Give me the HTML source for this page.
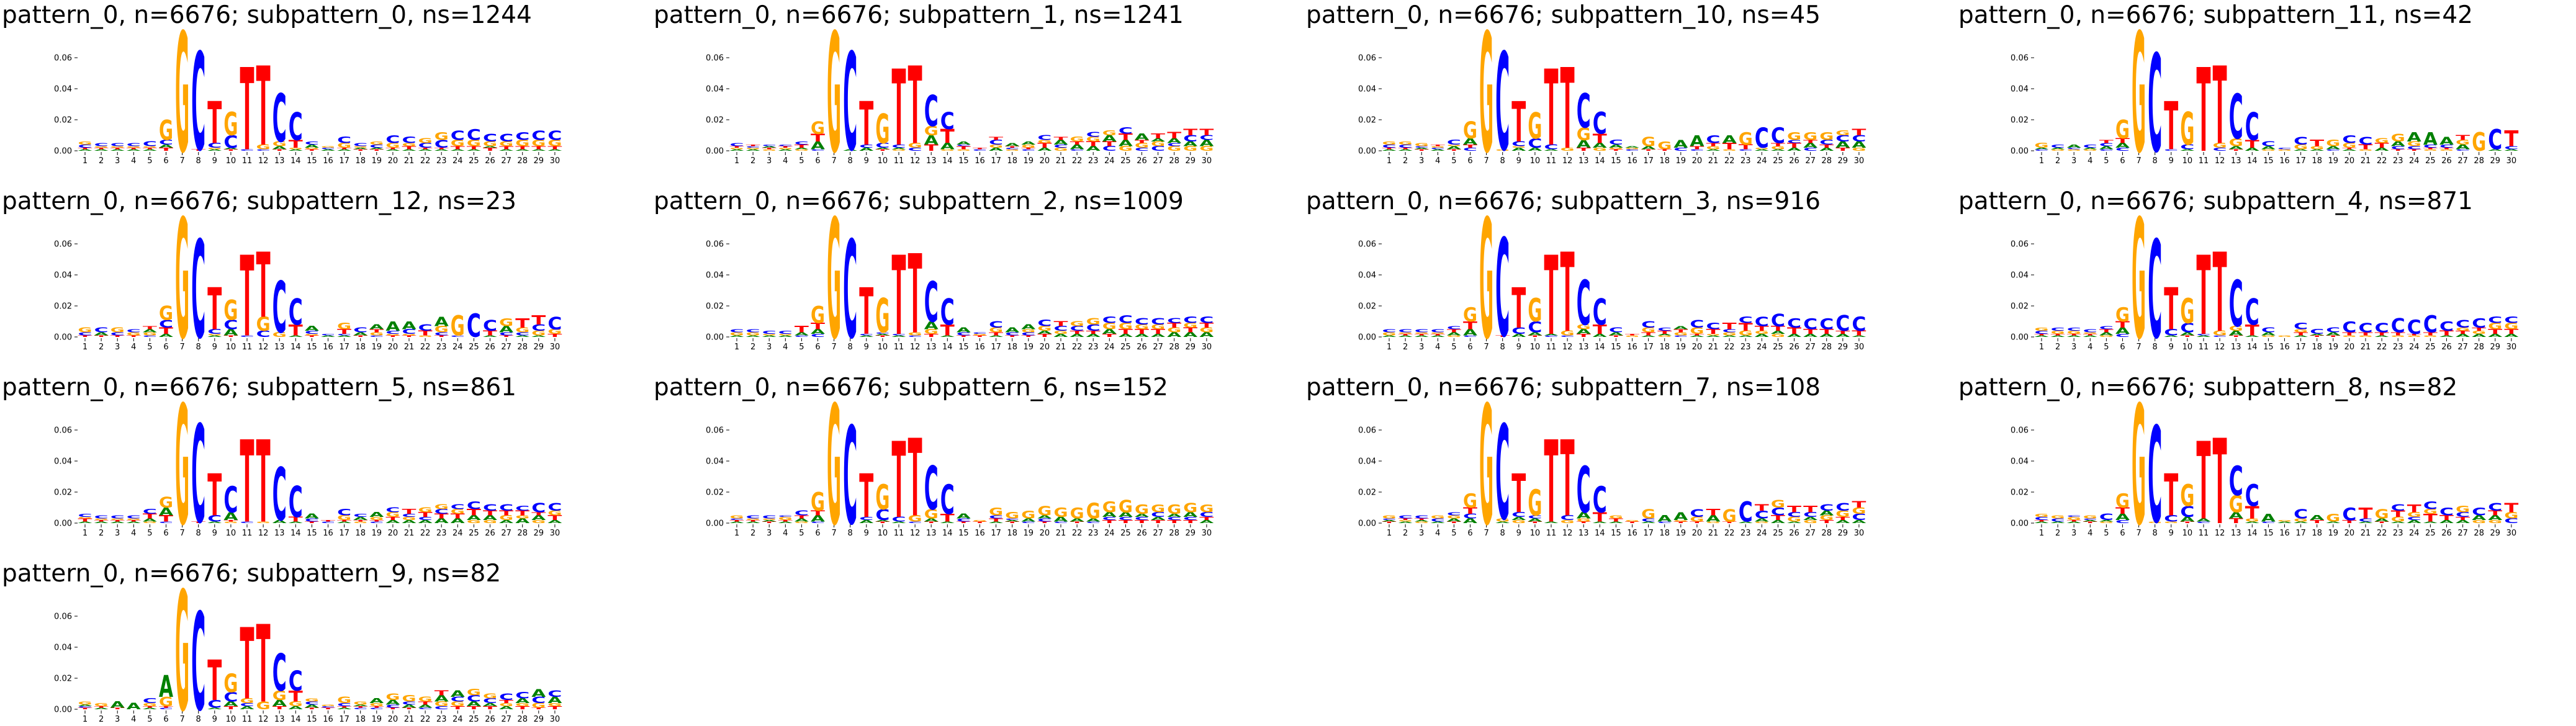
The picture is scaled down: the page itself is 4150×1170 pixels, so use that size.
<!DOCTYPE html>
<html><head><meta charset="utf-8">
<style>
html,body{margin:0;padding:0;background:#fff;}
svg{display:block;}
</style></head>
<body>
<svg id="fig" xmlns="http://www.w3.org/2000/svg" width="4150" height="1170" viewBox="0 0 4150 1170"></svg>
<script>
// ---- data (heights in units of 0.001, stacks bottom -> top) ----
const subpatternIds = ["0","1","10","11","12","2","3","4","5","6","7","8","9"];
const subpatternNs = [1244,1241,45,42,23,1009,916,871,861,152,108,82,82];
const positions = [1,2,3,4,5,6,7,8,9,10,11,12,13,14,15,16,17,18,19,20,21,22,23,24,25,26,27,28,29,30];
const yTickValues = [0,0.02,0.04,0.06];
const yTickLabels = ["0.00","0.02","0.04","0.06"];
const stacks0 = ["A1 T1 C2 G2","A1 T1 G1 C2","A1 T1 G1 C2","A1 T1 G1 C2","A1 T1 G1 C3","T2 A2 C3 G13","G77","T1 C63","A1 G1 C3 T27","T1 A1 C8 G15","C1 T53","C1 G3 T51","T1 A2 G3 C31","A1 G1 T5 C18","T1 G1 A2 C2","A1 C1 G1","A1 T1 G3 C4","T1 A1 G1 C2","T1 A1 C2 G2","A1 T1 G3 C5","A1 T2 G2 C4","A1 T1 C3 G3","A1 T1 C5 G5","A1 T2 G4 C6","A1 T2 G4 C7","T2 A1 G3 C5","A1 T2 G3 C5","A1 T2 G4 C5","A1 T2 G4 C6","A1 T2 G4 C6"];
const stacks1 = ["A1 G1 T1 C2","A1 G1 C1 T1","G1 T1 A1 C1","A1 G1 T1 C1","G1 A1 T2 C2","C1 A5 T5 G8","G77","A1 C63","A2 C2 T28","T1 A1 C3 G19","G1 A1 C2 T49","C2 G3 T50","T4 A6 G6 C20","G1 A4 T9 C11","G1 T2 C1 A2","C1 T1","A2 G2 C3 T2","G1 C1 T1 A2","C1 T1 G2 A2","A2 T3 G2 C3","G2 C2 A3 T2","C1 A3 T2 G3","A3 T3 G3 C3","C3 T3 A4 G3","G3 A4 T4 C4","C2 G3 T2 A4","C3 G3 A2 T3","G3 C2 A3 T4","G3 A3 C4 T4","G3 A4 C3 T4"];
const stacks10 = ["A1 T1 C2 G2","A1 T1 C2 G2","T1 A1 C1 G2","A1 C1 G1 T1","T1 A2 G1 C3","C2 T2 A4 G11","G77","G1 C63","A2 G1 C3 T26","A2 C6 G17","A1 C3 T49","G2 T52","T2 A5 G8 C22","G2 A3 T6 C14","T1 G1 A2 C3","C1 G1 A1","T1 A2 G6","T1 G5","C2 A5","C1 T2 A7","A1 G2 T2 C5","G1 T4 A5","C1 T3 G8","A1 G1 C13","A1 G2 T2 C10","A2 T3 C2 G5","C2 A3 T2 G5","A2 T2 C3 G5","T2 A4 C4 G3","G2 A4 C4 T4"];
const stacks11 = ["C1 A1 G3","G1 A1 C2","G1 C1 A2","G1 A1 C2","C1 A2 C2 T2","C2 A3 T3 G12","G77","C63","C1 T31","A1 C3 G21","T54","C2 G3 T50","T1 A2 G5 C29","A2 T5 C18","G1 A2 C3","G1 C1","A1 G3 C5","A1 G2 T4","C1 A2 G4","A1 T1 G3 C5","G1 T3 C5","A2 T3 G3","T1 C2 A3 G5","T1 C2 G3 A6","G1 T1 C2 A8","G1 T1 C2 A5","C1 A3 G3 T3","G12","A1 C13","A1 C2 T10"];
const stacks12 = ["T1 C2 G3","T1 A2 C3","T1 C2 G3","T1 G2 C2","C1 G2 A2 T2","A2 T4 C5 G9","G77","C63","A1 G1 C3 T27","T1 A4 C6 G13","C1 T52","C4 G9 T42","G3 C33","A1 T7 C17","T1 G1 C2 A3","A1 C1","A1 C1 T3 G4","T1 A2 C3","C1 G2 T2 A3","T1 G1 C2 A6","T1 G1 C3 A5","G1 T3 C4","T1 C2 G4 A6","C1 G13","C15","A1 T3 C7","T1 C2 A4 G5","A1 C2 G3 T6","A1 G3 C4 T6","T2 G3 C8"];
const stacks2 = ["A1 G2 C2","A1 G2 C2","A1 G1 C2","A1 G1 C2","C1 A2 T4","C2 A3 T4 G11","G77","C63","A1 C1 T30","T1 A1 C1 G22","A1 C1 T51","C1 G2 T51","T2 G3 A5 C26","A1 T7 C17","T1 C2 A3","T1 G1 C1","A1 T2 G3 C4","T1 C2 A3","T1 C2 G2 A3","T2 A2 G3 C4","A2 G2 C3 T3","A2 T2 C3 G3","A2 T2 C4 G4","T2 A3 G4 C4","A2 T3 G4 C5","A2 T3 G3 C4","A2 T3 G3 C4","A3 G3 T3 C3","A3 T3 G3 C4","A3 G3 T3 C4"];
const stacks3 = ["A1 G2 C2","A1 T1 G1 C2","A1 T1 G1 C2","A1 T1 G1 C2","G1 A2 T2 C2","C1 A4 T5 G9","G77","T1 C63","A2 C4 T26","T1 A2 C7 G15","C1 A1 T51","C1 G3 T51","T2 A3 G3 C29","A2 T6 C17","T1 A2 C3","G1 T1","A1 T2 G3 C4","G1 A1 T2 C2","C1 G2 T2 A2","A1 T1 G4 C5","A1 G1 T3 C4","A1 G2 C2 T4","A1 G3 T5 C4","A2 G2 T3 C6","G2 A2 T3 C8","A2 T4 C6","A2 T3 C7","A2 T3 C7","A2 T2 C10","A1 T3 C9"];
const stacks4 = ["A1 T1 C2 G2","A1 T1 G2 C2","A1 T1 G2 C2","A1 T1 G1 C2","G1 A2 T2 C2","C2 A4 T4 G9","G77","C63","A1 C4 T27","T1 A2 C6 G16","A1 C1 T51","C1 G3 T51","T1 A3 G3 C30","A1 T7 C17","G1 A2 C3","G1","A1 T2 G2 C4","T1 A1 C3","T1 A2 C3","G1 T2 C7","G1 T2 C6","A1 T2 C6","G1 T2 C9","G1 T1 C9","G1 T2 C11","A1 T3 C6","A2 T2 G2 C5","A2 G2 T2 C6","A2 T3 G4 C4","A2 T3 G4 C4"];
const stacks5 = ["A1 T2 G1 C2","A1 T1 G1 C2","A1 T1 G1 C2","A1 T1 G1 C2","G1 A2 T3 C3","C1 T4 A5 G7","G77","T1 C63","A1 C4 T27","G1 T1 A5 C17","C1 T53","G1 T53","A2 C34","A1 T3 C20","T1 C2 A3","C1 T1","A1 T1 G3 C4","G1 T1 A2 C2","C1 T1 G2 A3","A2 T2 G3 C3","A2 G2 C2 T3","A2 C2 T3 G3","A3 T3 C3 G3","A3 T3 G3 C3","G2 A3 T4 C5","G2 A3 T3 C4","A2 G3 T3 C4","A3 G2 T3 C3","G2 A3 T2 C6","A2 T3 G3 C5"];
const stacks6 = ["A1 T1 C1 G2","A1 T1 G1 C2","T1 A1 G1 C2","A1 T1 G2 C1","G1 A2 T2 C3","C1 A4 T3 G12","G77","C63","A2 C2 T28","T1 A1 C7 G16","A1 C3 T49","C1 G4 T50","T1 A2 G6 C28","A1 T5 C19","T1 C2 A3","T1 G1","A1 T2 C2 G5","T1 A1 C1 G4","C1 A2 G5","T1 C2 A2 G6","C1 A3 G6","T1 A2 G7","C1 A2 G10","T2 C2 A3 G7","T2 C2 A3 G8","T2 C2 A2 G6","T2 A2 C3 G5","T2 C2 A2 G6","T2 C2 A3 G6","A2 T2 C3 G5"];
const stacks7 = ["T1 A1 C1 G2","A1 G1 T1 C2","G1 A1 T1 C2","A1 C2 G2","T1 A2 G2 C2","A3 C3 T4 G9","G77","A1 G2 C61","G2 A2 C3 T25","T1 A2 C2 G17","A1 T53","G2 C3 T49","T1 G2 A4 C30","A1 T6 C17","A1 T2 G2","T1 G1","A1 C2 G6","C1 A4","T1 G1 A5","T1 G3 C5","G1 A4 T4","T1 G8","A1 C13","G1 A2 C5 T4","A2 T3 C5 G5","A1 G3 C3 T4","G2 A2 C3 T4","T2 G3 A3 C4","A2 T2 G4 C5","A2 C4 G4 T4"];
const stacks8 = ["A1 T1 C2 G2","A1 C2 G2","A1 T1 G2 C1","T1 A1 C1 G2","G1 A1 C4","C2 A4 T4 G9","G77","G1 C62","G1 C4 T27","T1 A3 C7 G14","C1 A2 T50","T55","T3 A4 G11 C19","A1 G2 T8 C14","C1 A5","A1 G1","A1 G2 C6","T2 A3","A1 G5","T2 C8","A1 C2 T7","T1 A2 G6","A1 G3 T4 C4","A2 C2 G3 T5","A1 T5 G3 C5","A2 T3 C5","A2 T2 C3 G4","G2 A3 C5","G2 A3 T3 C5","C3 G4 T6"];
const stacks9 = ["T1 C1 A1 G2","A1 T1 G2","T1 A4","A4","A1 T1 G2 C3","C1 T1 G6 A14","G77","C63","A1 C5 T26","T2 A3 C6 G12","A2 C2 G3 T46","G5 T50","T2 A4 G6 C24","A2 G3 T7 C13","T1 A2 C2 G2","T1 C1 G1","A1 T1 C2 G4","C1 T1 A1 G2","C1 T1 G2 A3","T1 C2 A3 G4","T1 A2 C2 G4","C1 A2 T2 G3","C2 G3 A4 T3","T2 G3 C3 A4","T2 A3 C4 G4","T2 A2 C3 G3","A2 G2 T2 C4","T2 G2 A3 C4","T1 G3 C4 A5","T2 G2 A4 C4"];
const panelStacks = [stacks0,stacks1,stacks10,stacks11,stacks12,stacks2,stacks3,stacks4,stacks5,stacks6,stacks7,stacks8,stacks9];

// ---- layout ----
const NS = "http://www.w3.org/2000/svg";
const svg = document.getElementById('fig');
const colX = [0,1050,2101,3152];
const rowY = [0,300,600,900];
const zeroY = 243, pxPerUnit = 2500; // 0.02 -> 50px
const x1 = 137, dx = 26.1, letterW = 23;
const colors = {A:"#008000",C:"#0000ff",G:"#ffa500",T:"#ff0000"};
function xScale(p){ return x1 + (p-1)*dx; }
function yScale(v){ return zeroY - v*pxPerUnit; }
function mk(tag, attrs, parent){
  const e = document.createElementNS(NS, tag);
  for (const k in attrs) e.setAttribute(k, attrs[k]);
  parent.appendChild(e); return e;
}

subpatternIds.forEach((sid, i) => {
  const g = mk('g', {transform:`translate(${colX[i%4]},${rowY[Math.floor(i/4)]})`}, svg);
  
  
  const t = mk('text', {x:3, y:37, 'font-family':'"DejaVu Sans", "Liberation Sans", sans-serif', 'font-size':39, fill:'#000'}, g);
  t.textContent = `pattern_0, n=6676; subpattern_${sid}, ns=${subpatternNs[i]}`;
  
  
  // y ticks
  yTickValues.forEach((v, k) => {
    const y = yScale(v);
    const tl = mk('line', {x1:120, x2:125, y1:y, y2:y, stroke:'#000', 'stroke-width':1}, g);
    
    
    const lb = mk('text', {x:116, y:y+4.7, 'text-anchor':'end', 'font-family':'"DejaVu Sans", sans-serif', 'font-size':13, fill:'#000'}, g);
    lb.textContent = yTickLabels[k];
    
    
  });
  // x ticks
  positions.forEach(p => {
    const x = xScale(p);
    const tl = mk('line', {x1:x, x2:x, y1:245, y2:250, stroke:'#000', 'stroke-width':1}, g);
    
    
    const lb = mk('text', {x:x, y:263, 'text-anchor':'middle', 'font-family':'"DejaVu Sans", sans-serif', 'font-size':13, fill:'#000'}, g);
    lb.textContent = String(p);
    
    
  });
  // letters
  panelStacks[i].forEach((stack, pi) => {
    let cum = 0;
    const xc = xScale(positions[pi]);
    stack.split(' ').forEach(tok => {
      const L = tok[0], h = parseFloat(tok.slice(1))/1000;
      const yb = yScale(cum), hpx = h*pxPerUnit;
      cum += h;
      const lt = mk('text', {
        transform:`translate(${xc-letterW/2},${yb}) scale(1,${hpx/72.9})`,
        x:0, y:0, 'font-family':'"DejaVu Sans", sans-serif', 'font-weight':'bold',
        'font-size':100, textLength:letterW*1, lengthAdjust:'spacingAndGlyphs', fill:colors[L]
      }, g);
      lt.textContent = L;
      
      
    });
  });
});
</script>
</body></html>
